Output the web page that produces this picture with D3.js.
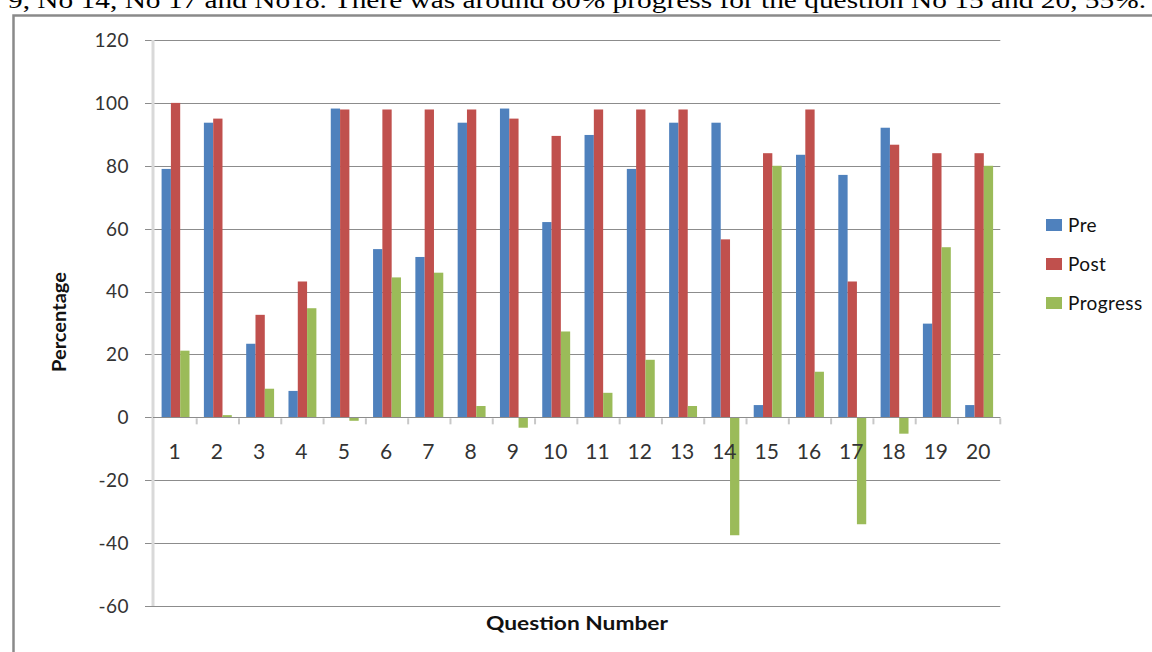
<!DOCTYPE html>
<html>
<head>
<meta charset="utf-8">
<script src="https://cdn.jsdelivr.net/npm/d3@7"></script>
<style>
body { margin: 0; background: #fff; }
text { font-family: Lato, "Noto Sans", sans-serif; }
</style>
</head>
<body>
<script>
// chart values
var questions = ["1","2","3","4","5","6","7","8","9","10","11","12","13","14","15","16","17","18","19","20"];
var pre      = [79, 93.7, 23.4, 8.4, 98.2, 53.5, 51, 93.7, 98.2, 62.1, 89.8, 79, 93.7, 93.7, 3.9, 83.5, 77.1, 92.1, 29.8, 3.9];
var post     = [100, 95, 32.6, 43.2, 97.9, 97.9, 97.9, 97.9, 95, 89.5, 97.9, 97.9, 97.9, 56.6, 84, 97.9, 43.2, 86.7, 84, 84];
var progress = [21.2, 0.7, 9.1, 34.7, -1.1, 44.5, 46, 3.6, -3.3, 27.3, 7.8, 18.3, 3.6, -37.5, 80, 14.5, -34, -5.2, 54.1, 80];
var seriesNames = ["Pre", "Post", "Progress"];
var yTicks = [-60, -40, -20, 0, 20, 40, 60, 80, 100, 120];
var colors = ["#4F81BD", "#C0504D", "#9BBB59"];

var w = 1152, h = 652;
var svg = d3.select("body").append("svg")
	.attr("width", w)
	.attr("height", h);

// text line of the page above the chart, cut off at the top
svg.append("text")
	.attr("x", 8)
	.attr("y", 8)
	.attr("textLength", 1138)
	.attr("lengthAdjust", "spacingAndGlyphs")
	.style("font-family", "'Liberation Serif', 'DejaVu Serif', serif")
	.style("font-size", "23px")
	.attr("fill", "#000")
	.text("9, No 14, No 17 and No18. There was around 80% progress for the question No 15 and 20, 55%.");

// chart frame
svg.append("path")
	.attr("d", "M13.5," + h + "V15.5H" + w)
	.attr("fill", "none")
	.attr("stroke", "#8a8a8a")
	.attr("stroke-width", 2.5);

var x = d3.scaleBand()
	.domain(questions)
	.range([154.4, 1000.3])
	.paddingInner(0.34)
	.paddingOuter(0.17);

var xs = d3.scaleBand()
	.domain(seriesNames)
	.range([0, x.bandwidth()]);

var y = d3.scaleLinear()
	.domain([-60, 120])
	.range([606, 40]);

// gridlines with outer ticks
svg.selectAll("line.grid")
	.data(yTicks)
	.enter()
	.append("line")
	.attr("class", "grid")
	.attr("x1", 145)
	.attr("x2", 1000.3)
	.attr("y1", function(d){ return Math.round(y(d)) + 0.5; })
	.attr("y2", function(d){ return Math.round(y(d)) + 0.5; })
	.attr("stroke", "#8c8c8c")
	.attr("stroke-width", 1.2);

// y axis line
svg.append("line")
	.attr("x1", 153)
	.attr("x2", 153)
	.attr("y1", y(120))
	.attr("y2", y(-60))
	.attr("stroke", "#d9d9d9")
	.attr("stroke-width", 3);

// y tick labels
svg.selectAll("text.ytick")
	.data(yTicks)
	.enter()
	.append("text")
	.attr("class", "ytick")
	.attr("x", 129)
	.attr("y", function(d){ return y(d); })
	.attr("dy", "0.36em")
	.attr("text-anchor", "end")
	.attr("fill", "#333")
	.style("font-size", "19px")
	.style("letter-spacing", "0.5px")
	.text(function(d){ return d; });

// bars
var rows = questions.map(function(q, i){ return {q: q, values: [pre[i], post[i], progress[i]]}; });

var groups = svg.selectAll("g.group")
	.data(rows)
	.enter()
	.append("g")
	.attr("class", "group")
	.attr("transform", function(d){ return "translate(" + x(d.q) + ",0)"; });

groups.selectAll("rect")
	.data(function(d){ return d.values.map(function(v, j){ return {name: seriesNames[j], v: v, c: colors[j]}; }); })
	.enter()
	.append("rect")
	.attr("x", function(d){ return xs(d.name); })
	.attr("width", xs.bandwidth())
	.attr("y", function(d){ return y(Math.max(0, d.v)); })
	.attr("height", function(d){ return Math.abs(y(d.v) - y(0)); })
	.attr("fill", function(d){ return d.c; });

// zero line (category axis)
svg.append("line")
	.attr("x1", 153)
	.attr("x2", 1000.3)
	.attr("y1", Math.round(y(0)) + 0.5)
	.attr("y2", Math.round(y(0)) + 0.5)
	.attr("stroke", "#8c8c8c")
	.attr("stroke-width", 1.2);

// category tick marks at band boundaries
svg.selectAll("line.ctick")
	.data(questions.slice(1).concat(["end"]))
	.enter()
	.append("line")
	.attr("class", "ctick")
	.attr("x1", function(d){ return d === "end" ? 1000.3 : x(d) - x.step() * x.paddingInner() / 2; })
	.attr("x2", function(d){ return d === "end" ? 1000.3 : x(d) - x.step() * x.paddingInner() / 2; })
	.attr("y1", y(0) + 1)
	.attr("y2", y(0) + 7)
	.attr("stroke", "#c8c8c8")
	.attr("stroke-width", 2);

// category labels
svg.selectAll("text.xtick")
	.data(questions)
	.enter()
	.append("text")
	.attr("class", "xtick")
	.attr("x", function(d){ return x(d) + x.bandwidth() / 2 - 1; })
	.attr("y", 459)
	.attr("text-anchor", "middle")
	.attr("fill", "#333")
	.style("font-size", "21px")
	.text(function(d){ return d; });

// axis titles
svg.append("text")
	.attr("transform", "translate(66,322) rotate(-90)")
	.attr("text-anchor", "middle")
	.attr("textLength", 100)
	.attr("lengthAdjust", "spacingAndGlyphs")
	.style("font-size", "18px")
	.style("font-weight", "bold")
	.attr("fill", "#111")
	.text("Percentage");

svg.append("text")
	.attr("x", 577)
	.attr("y", 630)
	.attr("text-anchor", "middle")
	.attr("textLength", 182)
	.attr("lengthAdjust", "spacingAndGlyphs")
	.style("font-size", "19px")
	.style("font-weight", "bold")
	.attr("fill", "#111")
	.text("Question Number");

// legend
var legend = svg.selectAll("g.legend")
	.data(seriesNames)
	.enter()
	.append("g")
	.attr("class", "legend")
	.attr("transform", function(d, i){ return "translate(1046," + (225 + i * 39) + ")"; });

legend.append("rect")
	.attr("x", 0)
	.attr("y", -6)
	.attr("width", 16)
	.attr("height", 12)
	.attr("fill", function(d, i){ return colors[i]; });

legend.append("text")
	.attr("x", 22)
	.attr("y", 0)
	.attr("dy", "0.36em")
	.attr("fill", "#111")
	.style("font-size", "19px")
	.style("letter-spacing", "0.4px")
	.text(function(d){ return d; });
</script>
</body>
</html>
